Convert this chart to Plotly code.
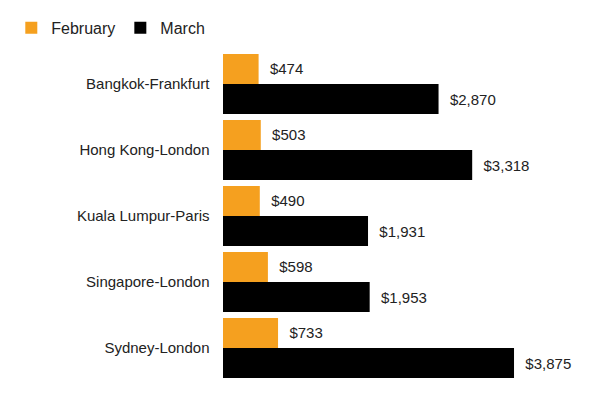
import plotly.graph_objects as go

routes = ["Bangkok-Frankfurt", "Hong Kong-London", "Kuala Lumpur-Paris", "Singapore-London", "Sydney-London"]
feb = [474, 503, 490, 598, 733]
mar = [2870, 3318, 1931, 1953, 3875]

def fmt(v):
    return "  ${:,}".format(v)

fig = go.Figure()
fig.add_bar(y=routes, x=feb, name="February", orientation="h", marker_color="#f5a01f",
            text=[fmt(v) for v in feb], textposition="outside", cliponaxis=False)
fig.add_bar(y=routes, x=mar, name="March", orientation="h", marker_color="#000000",
            text=[fmt(v) for v in mar], textposition="outside", cliponaxis=False)
fig.update_traces(textfont=dict(size=15, color="#222"), marker_line_width=0)
fig.update_layout(
    width=600, height=400, barmode="group", bargap=0.09, bargroupgap=0,
    plot_bgcolor="white", paper_bgcolor="white",
    font=dict(family="Liberation Sans, Arial", size=15, color="#222"),
    margin=dict(l=215, r=20, t=43, b=27, autoexpand=False),
    xaxis=dict(range=[0, 4860], visible=False),
    yaxis=dict(autorange="reversed", showline=False, ticks="", ticksuffix="   ",
               tickfont=dict(size=15), automargin=False),
    legend=dict(orientation="h", x=-0.58, y=1.07, xanchor="left", yanchor="middle", font=dict(size=16),
                traceorder="normal"),
)
fig.write_html("out.html")
